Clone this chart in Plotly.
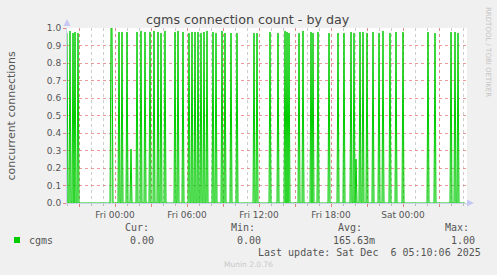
import pandas as pd
import plotly.graph_objects as go

# ---- data ----
range_start = "2025-12-04 20:00"
range_end = "2025-12-06 05:20"
data_end = "2025-12-06 05:10"

spike_times = [
    "2025-12-04 20:00", "2025-12-04 20:15", "2025-12-04 20:30", "2025-12-04 20:40", "2025-12-04 20:55",
    "2025-12-04 23:40", "2025-12-04 23:45",
    "2025-12-05 00:20", "2025-12-05 00:35", "2025-12-05 01:00", "2025-12-05 01:20", "2025-12-05 01:50",
    "2025-12-05 02:10", "2025-12-05 02:30", "2025-12-05 02:55", "2025-12-05 03:15", "2025-12-05 03:35",
    "2025-12-05 03:50", "2025-12-05 04:10", "2025-12-05 05:00", "2025-12-05 05:15", "2025-12-05 05:40",
    "2025-12-05 06:10", "2025-12-05 06:25", "2025-12-05 06:40", "2025-12-05 06:55", "2025-12-05 07:10",
    "2025-12-05 07:25", "2025-12-05 07:40", "2025-12-05 08:10", "2025-12-05 08:25", "2025-12-05 08:55",
    "2025-12-05 09:10", "2025-12-05 09:40", "2025-12-05 10:10", "2025-12-05 11:35", "2025-12-05 11:50",
    "2025-12-05 12:55", "2025-12-05 13:35", "2025-12-05 14:10", "2025-12-05 14:20", "2025-12-05 14:30",
    "2025-12-05 15:20", "2025-12-05 15:40", "2025-12-05 16:20", "2025-12-05 16:30", "2025-12-05 16:55",
    "2025-12-05 17:50", "2025-12-05 18:35", "2025-12-05 19:05", "2025-12-05 19:40", "2025-12-05 19:55",
    "2025-12-05 20:05", "2025-12-05 20:25", "2025-12-05 20:40", "2025-12-05 21:00", "2025-12-05 21:30",
    "2025-12-05 22:00", "2025-12-05 22:20", "2025-12-05 22:55", "2025-12-05 23:25", "2025-12-06 00:00",
    "2025-12-06 02:05", "2025-12-06 02:40", "2025-12-06 04:00", "2025-12-06 04:20", "2025-12-06 04:35",
]
spike_values = [
    0.971, 0.983, 0.971, 0.977, 0.971,
    1.0, 1.0,
    0.977, 0.977, 0.977, 0.309, 0.977,
    0.983, 0.977, 0.977, 0.983, 0.977,
    0.971, 0.983, 0.977, 0.983, 0.977,
    0.971, 0.977, 0.977, 0.977, 0.971,
    0.977, 0.983, 0.977, 0.971, 0.983,
    0.971, 0.971, 0.971, 0.971, 0.971,
    0.977, 0.971, 0.983, 0.977, 0.971,
    0.971, 0.983, 0.977, 0.971, 0.977,
    0.971, 0.971, 0.971, 0.977, 0.971,
    0.251, 0.977, 0.977, 0.971, 0.977,
    0.971, 0.983, 0.971, 0.977, 0.977,
    0.977, 0.971, 0.977, 0.977, 0.971,
]

tick_vals = [
    "2025-12-04 21:00", "2025-12-05 00:00", "2025-12-05 03:00", "2025-12-05 06:00",
    "2025-12-05 09:00", "2025-12-05 12:00", "2025-12-05 15:00", "2025-12-05 18:00",
    "2025-12-05 21:00", "2025-12-06 00:00", "2025-12-06 03:00",
]
tick_text = ["", "Fri 00:00", "", "Fri 06:00", "", "Fri 12:00", "", "Fri 18:00", "", "Sat 00:00", ""]

legend_name = "cgms"
stat_labels = ["Cur:", "Min:", "Avg:", "Max:"]
stat_values = ["0.00", "0.00", "165.63m", "1.00"]
last_update = "Last update: Sat Dec  6 05:10:06 2025"

# ---- build the 5-minute series ----
times = pd.date_range(range_start, data_end, freq="5min")
series = pd.Series(0.0, index=times)
for t, v in zip(spike_times, spike_values):
    series[pd.Timestamp(t)] = v

# ---- layout helpers (pixel -> paper) ----
W, H = 497, 275
L, R, T, B = 67, 30, 28, 72
PW, PH = W - L - R, H - T - B


def px(x):
    return (x - L) / PW


def py(y):
    return (H - B - y) / PH


GREEN = "#00cc00"
TXT = "#555555"
MONO = "DejaVu Sans Mono"
SANS = "DejaVu Sans"

fig = go.Figure()
fig.add_trace(go.Scatter(
    x=series.index, y=series.values, mode="lines",
    line=dict(color=GREEN, width=1), fill="tozeroy", fillcolor="rgba(0,204,0,0.30)",
    hoverinfo="skip", showlegend=False,
))

fig.update_layout(
    width=W, height=H,
    margin=dict(l=L, r=R, t=T, b=B, pad=0),
    paper_bgcolor="#f0f0f0", plot_bgcolor="#ffffff",
    showlegend=False,
    xaxis=dict(
        type="date", range=[range_start, range_end],
        tickmode="array", tickvals=tick_vals, ticktext=tick_text,
        showgrid=True, gridcolor="rgba(230,120,120,0.75)", griddash="dot", gridwidth=1,
        ticks="outside", ticklen=3, tickcolor="rgba(230,120,120,0.9)",
        minor=dict(dtick=3600000, tick0="2025-12-04 20:00", showgrid=True,
                   gridcolor="rgba(170,170,170,0.6)", griddash="dot",
                   ticks="outside", ticklen=2, tickcolor="rgba(170,170,170,0.8)"),
        tickfont=dict(family=SANS, size=9, color=TXT),
        showline=True, linecolor="#d0d0f0", linewidth=1,
        zeroline=False, fixedrange=True,
    ),
    yaxis=dict(
        range=[0, 1.0], dtick=0.1, tick0=0, tickformat=".1f",
        showgrid=True, gridcolor="rgba(230,120,120,0.75)", griddash="dot", gridwidth=1,
        ticks="outside", ticklen=3, tickcolor="rgba(230,120,120,0.9)",
        tickfont=dict(family=SANS, size=9, color=TXT),
        showline=True, linecolor="#d0d0f0", linewidth=1,
        zeroline=False, fixedrange=True,
    ),
)

ann = []
ann.append(dict(text="cgms connection count - by day", x=px(248), y=py(20), xref="paper", yref="paper",
                showarrow=False, xanchor="center", yanchor="middle",
                font=dict(family=SANS, size=12.7, color="#444444")))
ann.append(dict(text="concurrent connections", x=px(11), y=py(115.5), xref="paper", yref="paper",
                showarrow=False, textangle=-90, xanchor="center", yanchor="middle",
                font=dict(family=SANS, size=11, color=TXT)))
ann.append(dict(text="RRDTOOL / TOBI OETIKER", x=px(488), y=py(52), xref="paper", yref="paper",
                showarrow=False, textangle=90, xanchor="center", yanchor="middle",
                font=dict(family=SANS, size=7, color="#c4c4c4")))
ann.append(dict(text=legend_name, x=px(27), y=py(240), xref="paper", yref="paper",
                showarrow=False, xanchor="left", yanchor="middle",
                font=dict(family=MONO, size=10, color=TXT)))
label_right = [150.5, 257, 363.5, 470.5]
value_right = [156, 263, 376.5, 477]
for lab, val, xl, xv in zip(stat_labels, stat_values, label_right, value_right):
    ann.append(dict(text=lab, x=px(xl), y=py(227.5), xref="paper", yref="paper",
                    showarrow=False, xanchor="right", yanchor="middle",
                    font=dict(family=MONO, size=10, color=TXT)))
    ann.append(dict(text=val, x=px(xv), y=py(240), xref="paper", yref="paper",
                    showarrow=False, xanchor="right", yanchor="middle",
                    font=dict(family=MONO, size=10, color=TXT)))
ann.append(dict(text=last_update.replace(" ", "&nbsp;"), x=px(483), y=py(252), xref="paper", yref="paper",
                showarrow=False, xanchor="right", yanchor="middle",
                font=dict(family=MONO, size=10, color=TXT)))
ann.append(dict(text="Munin 2.0.76", x=px(248), y=py(264), xref="paper", yref="paper",
                showarrow=False, xanchor="center", yanchor="middle",
                font=dict(family=SANS, size=7.5, color="#c8c8c8")))
fig.update_layout(annotations=ann)

shapes = []
# legend colour box
shapes.append(dict(type="rect", xref="paper", yref="paper",
                   x0=px(14), x1=px(20), y0=py(243), y1=py(237),
                   fillcolor=GREEN, line=dict(width=0)))
# axis arrows
shapes.append(dict(type="path", xref="paper", yref="paper",
                   path=f"M {px(63.5)} {py(26)} L {px(70.5)} {py(26)} L {px(67)} {py(19)} Z",
                   fillcolor="#c8c8f4", line=dict(width=0)))
shapes.append(dict(type="path", xref="paper", yref="paper",
                   path=f"M {px(467)} {py(199.5)} L {px(467)} {py(206.5)} L {px(474)} {py(203)} Z",
                   fillcolor="#c8c8f4", line=dict(width=0)))
fig.update_layout(shapes=shapes)

fig.write_html("out.html")
